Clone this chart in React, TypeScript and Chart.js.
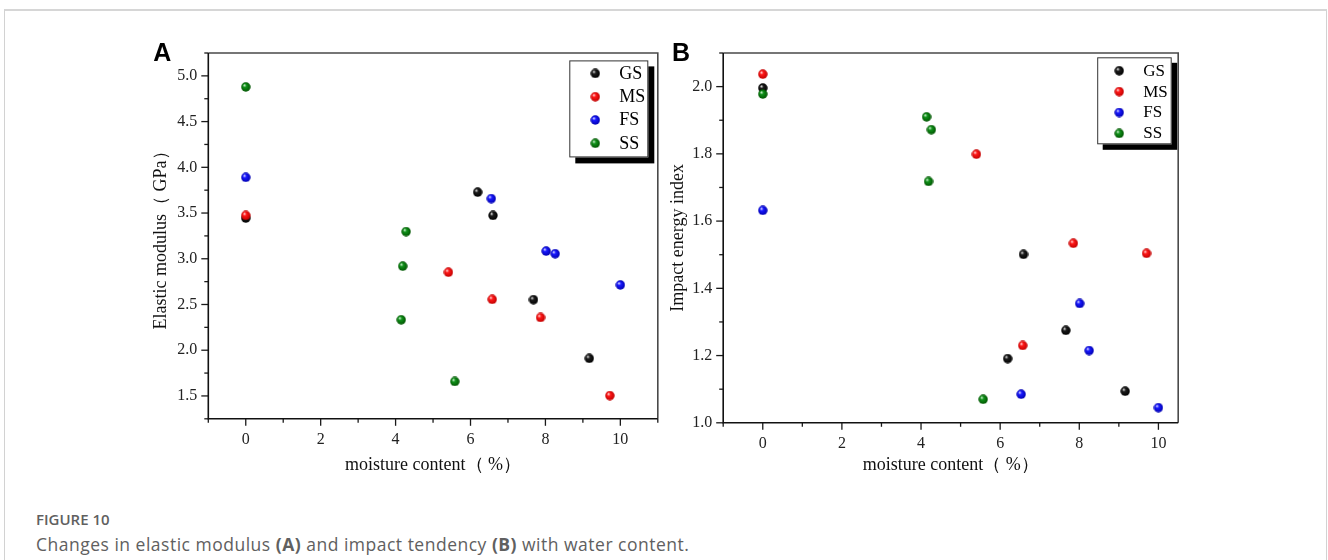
import React, { useEffect, useRef } from 'react';
import { Chart, registerables } from 'chart.js';

Chart.register(...registerables);

const SERIF = "'Liberation Serif', 'Times New Roman', Times, serif";
const SANS = "'Liberation Sans', Arial, Helvetica, sans-serif";
const CAPTION_FONT = "'Open Sans', 'Noto Sans', sans-serif";

// ---------- series ----------
const seriesNames = ['GS', 'MS', 'FS', 'SS'];
const seriesColors = ['#000000', '#ff0000', '#0000ff', '#008000'];
const ballShades = [
  ['#e8e8e8', '#1c1c1c', '#000000'],
  ['#ffe4e4', '#ff1818', '#c00000'],
  ['#e4e4ff', '#1818ff', '#0000b0'],
  ['#d8f4d8', '#10921a', '#005400'],
];

// ---------- Panel A: elastic modulus (GPa) vs moisture content (%) ----------
const gsA_x = [0, 6.19, 6.6, 7.68, 9.17];
const gsA_y = [3.445, 3.728, 3.474, 2.553, 1.911];
const msA_x = [0, 5.41, 6.58, 7.87, 9.72];
const msA_y = [3.474, 2.853, 2.556, 2.358, 1.504];
const fsA_x = [0, 6.555, 8.02, 8.26, 10.0];
const fsA_y = [3.89, 3.658, 3.084, 3.055, 2.714];
const ssA_x = [0, 4.28, 4.19, 4.15, 5.58];
const ssA_y = [4.879, 3.297, 2.919, 2.333, 1.658];

// ---------- Panel B: impact energy index vs moisture content (%) ----------
const gsB_x = [0, 6.19, 6.59, 7.66, 9.16];
const gsB_y = [1.996, 1.191, 1.501, 1.275, 1.094];
const msB_x = [0, 5.4, 6.57, 7.85, 9.7];
const msB_y = [2.037, 1.799, 1.23, 1.534, 1.504];
const fsB_x = [0, 6.53, 8.01, 8.25, 10.0];
const fsB_y = [1.632, 1.085, 1.355, 1.215, 1.045];
const ssB_x = [0, 4.14, 4.26, 4.19, 5.57];
const ssB_y = [1.978, 1.91, 1.872, 1.718, 1.07];

// ---------- ticks ----------
const xTickValues = [0, 2, 4, 6, 8, 10];
const xTickLabels = ['0', '2', '4', '6', '8', '10'];
const xMinorA = [-1, 1, 3, 5, 7, 9, 11];
const xMinorB = [-1, 1, 3, 5, 7, 9];
const yTickValuesA = [1.5, 2.0, 2.5, 3.0, 3.5, 4.0, 4.5, 5.0];
const yTickLabelsA = ['1.5', '2.0', '2.5', '3.0', '3.5', '4.0', '4.5', '5.0'];
const yMinorA = [1.25, 1.75, 2.25, 2.75, 3.25, 3.75, 4.25, 4.75, 5.25];
const yTickValuesB = [1.0, 1.2, 1.4, 1.6, 1.8, 2.0];
const yTickLabelsB = ['1.0', '1.2', '1.4', '1.6', '1.8', '2.0'];
const yMinorB = [1.1, 1.3, 1.5, 1.7, 1.9, 2.1];

function makeBall(shades: string[], size: number): HTMLCanvasElement {
  const c = document.createElement('canvas');
  c.width = size;
  c.height = size;
  const ctx = c.getContext('2d')!;
  const r = size / 2 - 0.3;
  const cx = size / 2;
  const cy = size / 2;
  const g = ctx.createRadialGradient(cx - r * 0.35, cy - r * 0.4, r * 0.05, cx, cy, r);
  g.addColorStop(0, shades[0]);
  g.addColorStop(0.35, shades[1]);
  g.addColorStop(1, shades[2]);
  ctx.fillStyle = g;
  ctx.beginPath();
  ctx.arc(cx, cy, r, 0, Math.PI * 2);
  ctx.fill();
  return c;
}

const framePlugin = {
  id: 'frameTicks',
  afterDraw(chart: any, _args: any, opts: any) {
    const { ctx, chartArea: ca, scales } = chart;
    const xs = scales.x;
    const ys = scales.y;
    ctx.save();
    ctx.lineCap = 'butt';
    ctx.strokeStyle = '#1a1a1a';
    ctx.lineWidth = 1.3;
    const tickX = (vals: number[], len: number) =>
      vals.forEach((v) => {
        const px = xs.getPixelForValue(v);
        ctx.beginPath();
        ctx.moveTo(px, ca.bottom);
        ctx.lineTo(px, ca.bottom + len);
        ctx.stroke();
      });
    const tickY = (vals: number[], len: number) =>
      vals.forEach((v) => {
        const py = ys.getPixelForValue(v);
        ctx.beginPath();
        ctx.moveTo(ca.left, py);
        ctx.lineTo(ca.left - len, py);
        ctx.stroke();
      });
    tickX(opts.xMajor, 7);
    tickX(opts.xMinor, 4);
    tickY(opts.yMajor, 7);
    tickY(opts.yMinor, 4);

    // frame
    ctx.lineWidth = 1.6;
    ctx.strokeStyle = '#4a4a4a';
    ctx.beginPath();
    ctx.moveTo(ca.left, ca.top);
    ctx.lineTo(ca.right, ca.top);
    ctx.lineTo(ca.right, ca.bottom);
    ctx.stroke();
    ctx.strokeStyle = '#111';
    ctx.beginPath();
    ctx.moveTo(ca.left, ca.top);
    ctx.lineTo(ca.left, ca.bottom);
    ctx.lineTo(ca.right, ca.bottom);
    ctx.stroke();

    // legend
    const L = opts.legend;
    const bx = ca.right - L.fromRight;
    const by = ca.top + L.fromTop;
    ctx.fillStyle = '#000';
    ctx.fillRect(bx + L.shadow, by + L.shadow, L.w, L.h);
    ctx.fillStyle = '#fff';
    ctx.fillRect(bx, by, L.w, L.h);
    ctx.strokeStyle = '#333';
    ctx.lineWidth = 1;
    ctx.strokeRect(bx + 0.5, by + 0.5, L.w - 1, L.h - 1);
    ctx.font = `${L.fontSize}px ${SERIF}`;
    ctx.textBaseline = 'middle';
    ctx.textAlign = 'left';
    chart.data.datasets.forEach((ds: any, i: number) => {
      const yy = by + L.firstRow + i * L.rowGap;
      const img = ds.pointStyle as HTMLCanvasElement;
      ctx.drawImage(img, bx + L.markerX - img.width / 2, yy - img.height / 2);
      ctx.fillStyle = '#000';
      ctx.fillText(ds.label, bx + L.textX, yy + 0.5);
    });

    // panel letter
    ctx.font = `bold 25px ${SANS}`;
    ctx.textBaseline = 'alphabetic';
    ctx.fillStyle = '#000';
    ctx.fillText(opts.letter.text, opts.letter.x, opts.letter.y);
    ctx.restore();
  },
};

function buildConfig(p: any): any {
  const balls = ballShades.map((s) => makeBall(s, 10));
  const xsArr = [p.gx, p.mx, p.fx, p.sx];
  const ysArr = [p.gy, p.my, p.fy, p.sy];
  const datasets = seriesNames.map((name, i) => ({
    label: name,
    data: xsArr[i].map((x: number, k: number) => ({ x, y: ysArr[i][k] })),
    pointStyle: balls[i],
    pointRadius: 5,
    backgroundColor: seriesColors[i],
    borderColor: seriesColors[i],
    showLine: false,
    order: 4 - i,
  }));
  return {
    type: 'scatter',
    data: { datasets },
    plugins: [framePlugin],
    options: {
      animation: false,
      responsive: false,
      events: [],
      layout: { padding: { left: 0, top: p.padTop, right: p.padRight, bottom: 0 } },
      plugins: {
        legend: { display: false },
        tooltip: { enabled: false },
        frameTicks: {
          xMajor: xTickValues,
          xMinor: p.xMinor,
          yMajor: p.yTicks,
          yMinor: p.yMinor,
          legend: p.legend,
          letter: p.letter,
        },
      },
      scales: {
        x: {
          type: 'linear',
          min: p.xMin,
          max: p.xMax,
          afterBuildTicks: (s: any) => {
            s.ticks = xTickValues.map((v) => ({ value: v }));
          },
          afterFit: (s: any) => {
            s.height = p.xAxisH;
          },
          grid: { drawOnChartArea: false, drawTicks: true, tickLength: 8, color: 'rgba(0,0,0,0)' },
          border: { display: false },
          ticks: {
            color: '#222',
            font: { family: SERIF, size: 16 },
            padding: 3,
            maxRotation: 0,
            autoSkip: false,
            callback: (_v: any, i: number) => xTickLabels[i],
          },
          title: {
            display: true,
            text: 'moisture content（ %）',
            color: '#111',
            font: { family: SERIF, size: 18 },
            padding: { top: 0, bottom: 14.2 },
          },
        },
        y: {
          type: 'linear',
          min: p.yMin,
          max: p.yMax,
          afterBuildTicks: (s: any) => {
            s.ticks = p.yTicks.map((v: number) => ({ value: v }));
          },
          afterFit: (s: any) => {
            s.width = p.yAxisW;
          },
          grid: { drawOnChartArea: false, drawTicks: true, tickLength: 8, color: 'rgba(0,0,0,0)' },
          border: { display: false },
          ticks: {
            color: '#222',
            font: { family: SERIF, size: 16 },
            padding: 3,
            autoSkip: false,
            callback: (_v: any, i: number) => p.yLabels[i],
          },
          title: {
            display: true,
            text: p.yTitle,
            color: '#111',
            font: { family: SERIF, size: 18 },
            padding: { top: p.yTitlePad, bottom: 0 },
          },
        },
      },
    },
  };
}

export default function App() {
  const refA = useRef<HTMLCanvasElement>(null);
  const refB = useRef<HTMLCanvasElement>(null);

  useEffect(() => {
    const a = new Chart(
      refA.current!,
      buildConfig({
        gx: gsA_x, gy: gsA_y, mx: msA_x, my: msA_y, fx: fsA_x, fy: fsA_y, sx: ssA_x, sy: ssA_y,
        xMin: -1, xMax: 11, yMin: 1.25, yMax: 5.25,
        yTicks: yTickValuesA, yLabels: yTickLabelsA, yMinor: yMinorA, xMinor: xMinorA,
        padTop: 23, padRight: 12.2, xAxisH: 71.2, yAxisW: 78.3, yTitlePad: 20,
        yTitle: 'Elastic modulus（ GPa）',
        legend: { fromRight: 88.5, fromTop: 7.4, w: 79, h: 97, shadow: 6, firstRow: 13, rowGap: 23.3, markerX: 26, textX: 50, fontSize: 18 },
        letter: { text: 'A', x: 23.3, y: 31 },
      })
    );
    const b = new Chart(
      refB.current!,
      buildConfig({
        gx: gsB_x, gy: gsB_y, mx: msB_x, my: msB_y, fx: fsB_x, fy: fsB_y, sx: ssB_x, sy: ssB_y,
        xMin: -1, xMax: 10.5, yMin: 1.0, yMax: 2.1,
        yTicks: yTickValuesB, yLabels: yTickLabelsB, yMinor: yMinorB, xMinor: xMinorB,
        padTop: 23, padRight: 11.8, xAxisH: 67.2, yAxisW: 63.2, yTitlePad: 7,
        yTitle: 'Impact energy index',
        legend: { fromRight: 81, fromTop: 4.3, w: 74.5, h: 87, shadow: 5.5, firstRow: 13.4, rowGap: 20.9, markerX: 22, textX: 46, fontSize: 17 },
        letter: { text: 'B', x: 12, y: 31 },
      })
    );
    return () => {
      a.destroy();
      b.destroy();
    };
  }, []);

  return (
    <div style={{ position: 'fixed', left: 0, top: 0, width: 1328, height: 560, overflow: 'hidden', background: '#fff' }}>
      <div
        style={{
          position: 'absolute', left: 4, top: 9, width: 1323, height: 700,
          border: '1px solid #d2d2d2', borderTop: '2px solid #d6d6d6', boxSizing: 'border-box',
        }}
      />
      <canvas ref={refA} width={540} height={460} style={{ position: 'absolute', left: 130, top: 30, display: 'block' }} />
      <canvas ref={refB} width={530} height={460} style={{ position: 'absolute', left: 660, top: 30, display: 'block' }} />
      <div
        style={{
          position: 'absolute', left: 36, top: 509, fontFamily: CAPTION_FONT, fontSize: 15,
          lineHeight: '20px', fontWeight: 600, color: '#606060', whiteSpace: 'nowrap',
        }}
      >
        FIGURE 10
      </div>
      <div
        style={{
          position: 'absolute', left: 36, top: 533, fontFamily: CAPTION_FONT, fontSize: 17.5,
          lineHeight: '22px', letterSpacing: '0.5px', color: '#606060', whiteSpace: 'nowrap',
        }}
      >
        Changes in elastic modulus <b>(A)</b> and impact tendency <b>(B)</b> with water content.
      </div>
    </div>
  );
}
